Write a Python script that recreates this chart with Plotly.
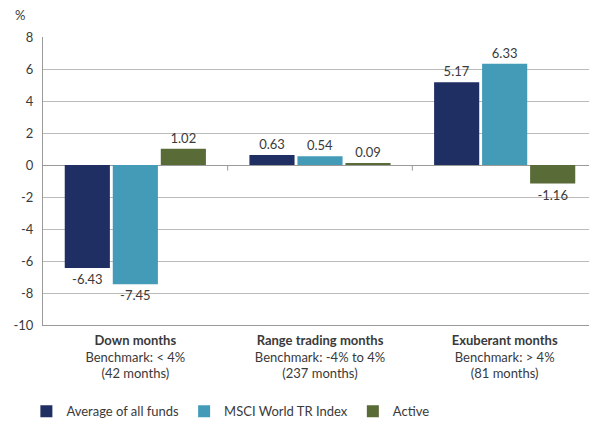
import plotly.graph_objects as go

# Categorías y valores
categorias = [
    "<b>Down months</b><br>Benchmark: &lt; 4%<br>(42 months)",
    "<b>Range trading months</b><br>Benchmark: -4% to 4%<br>(237 months)",
    "<b>Exuberant months</b><br>Benchmark: &gt; 4%<br>(81 months)",
]
promedio_fondos = [-6.43, 0.63, 5.17]
msci_world = [-7.45, 0.54, 6.33]
activo = [1.02, 0.09, -1.16]
marcas_y = [-10, -8, -6, -4, -2, 0, 2, 4, 6, 8]

COLOR_NAVY = "#1F2F63"
COLOR_CIAN = "#439BB8"
COLOR_VERDE = "#596B37"
COLOR_TEXTO = "#3A3A3A"
COLOR_REJILLA = "#BBBBBB"
COLOR_EJE = "#9A9A9A"

FUENTE = "Lato, 'Open Sans', sans-serif"

fig = go.Figure()
for nombre, valores, color in [
    ("Average of all funds", promedio_fondos, COLOR_NAVY),
    ("MSCI World TR Index", msci_world, COLOR_CIAN),
    ("Active", activo, COLOR_VERDE),
]:
    fig.add_trace(
        go.Bar(
            x=categorias, y=valores, name=nombre,
            marker=dict(color=color, line=dict(width=0)),
            text=[f"{v:.2f}" for v in valores],
            textposition="outside",
            textfont=dict(size=13, color=COLOR_TEXTO),
            cliponaxis=False,
        )
    )

# marcas entre categorías sobre la línea de cero
for pos in [0.5, 1.5]:
    fig.add_shape(type="line", xref="x", yref="y", x0=pos, x1=pos, y0=0, y1=-0.35,
                  line=dict(color=COLOR_EJE, width=1))

fig.add_annotation(text="%", xref="paper", yref="paper", x=0, y=1.0, yshift=22,
                   xshift=-30, xanchor="left", yanchor="middle", showarrow=False,
                   font=dict(size=13, color=COLOR_TEXTO))

# la página deja 8 px de margen en el body: se compensa en tamaño y márgenes
fig.update_layout(
    width=589, height=417,
    margin=dict(l=35, r=0, t=29, b=100, autoexpand=False),
    paper_bgcolor="white", plot_bgcolor="white",
    barmode="group", bargap=0.22, bargroupgap=0.06,
    font=dict(family=FUENTE, size=13, color=COLOR_TEXTO),
    legend=dict(orientation="h", x=-0.03, xanchor="left", y=-0.30, yanchor="middle",
                font=dict(size=13, color=COLOR_TEXTO),
                itemwidth=30, traceorder="normal"),
)
fig.update_yaxes(
    range=[-10, 8], tickvals=marcas_y, ticktext=[str(v) for v in marcas_y],
    showgrid=True, gridcolor=COLOR_REJILLA, gridwidth=1,
    zeroline=True, zerolinecolor=COLOR_EJE, zerolinewidth=1,
    showline=True, linecolor=COLOR_EJE, linewidth=1, automargin=False,
    ticks="", ticklabelstandoff=6, tickfont=dict(size=13, color=COLOR_TEXTO),
)
fig.update_xaxes(
    showline=True, linecolor=COLOR_EJE, linewidth=1, showgrid=False, automargin=False,
    ticks="", ticklabelstandoff=3, tickfont=dict(size=13, color=COLOR_TEXTO),
)

fig.write_html("out.html")
